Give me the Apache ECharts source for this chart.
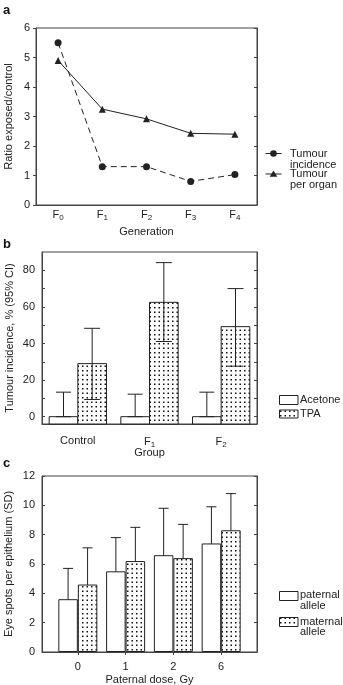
<!DOCTYPE html>
<html>
<head>
<meta charset="utf-8">
<script src="https://cdn.jsdelivr.net/npm/echarts@6/dist/echarts.min.js"></script>
<style>
html, body { margin: 0; padding: 0; background: #fff; }
#fig { width: 343px; height: 685px; }
</style>
</head>
<body>
<div id="fig"></div>
<script>
// panel a - ratio exposed/control by generation
var generations = ['F0', 'F1', 'F2', 'F3', 'F4'];
var tumourIncidence = [5.5, 1.3, 1.3, 0.8, 1.03];
var tumourPerOrgan = [4.9, 3.25, 2.92, 2.43, 2.4];

// panel b - tumour incidence % with 95% CI
var groups = ['Control', 'F1', 'F2'];
var acetone = [0, 0, 0];
var acetoneLow = [0, 0, 0];
var acetoneHigh = [13.4, 12.3, 13.4];
var tpa = [29, 62.5, 49.2];
var tpaLow = [9.4, 41.1, 27.6];
var tpaHigh = [48.3, 84.2, 70];

// panel c - eye spots per epithelium (SD)
var doses = ['0', '1', '2', '6'];
var paternal = [3.6, 5.5, 6.6, 7.4];
var paternalSD = [2.1, 2.3, 3.2, 2.5];
var maternal = [4.6, 6.2, 6.4, 8.3];
var maternalSD = [2.5, 2.3, 2.3, 2.5];

var INK = '#222';
var BOX = '#444';
var FONT = '"Liberation Sans", Arial, sans-serif';
var B_MIN = -4;
var C_BAR = 19.5;

// dotted fill used for TPA / maternal
function dotPattern () {
  var c = document.createElement('canvas');
  c.width = 9;
  c.height = 9;
  var ctx = c.getContext('2d');
  ctx.fillStyle = '#fff';
  ctx.fillRect(0, 0, 9, 9);
  ctx.fillStyle = '#111';
  [[1, 1], [5.5, 1], [1, 5.5], [5.5, 5.5]].forEach(function (p) {
    ctx.fillRect(p[0], p[1], 1.5, 1.5);
  });
  return c;
}
var dots = { image: dotPattern(), repeat: 'repeat' };

function subLabel (v) {
  if (v.charAt(0) === 'F') return '{f|F}{s|' + v.slice(1) + '}';
  return '{f|' + v + '}';
}
var subRich = {
  f: { fontSize: 11, color: INK, fontFamily: FONT },
  s: { fontSize: 8, color: INK, fontFamily: FONT, padding: [6, 0, 0, 0] },
};

var nameStyle = { fontSize: 11, color: INK, fontFamily: FONT };
var labelStyle = { fontSize: 11, color: INK, fontFamily: FONT };

// panel b bars start from the bottom of the axis, so drawn with custom
function barB (side, fill) {
  return function (params, api) {
    var i = api.value(0);
    var top = api.coord([i, api.value(1)]);
    var base = api.coord([i, B_MIN]);
    var w = api.size([1, 0])[0] * 0.4;
    var x = side < 0 ? top[0] - w : top[0];
    return {
      type: 'rect',
      shape: { x: x, y: top[1], width: w, height: base[1] - top[1] },
      style: { fill: fill, stroke: INK, lineWidth: 1 },
    };
  };
}

function errBar (side, widthFn, cap) {
  return function (params, api) {
    var i = api.value(0);
    var lo = api.coord([i, api.value(1)]);
    var hi = api.coord([i, api.value(2)]);
    var cx = lo[0] + side * widthFn(api) / 2;
    var st = { stroke: INK, lineWidth: 1 };
    return {
      type: 'group',
      children: [
        { type: 'line', shape: { x1: cx, y1: lo[1], x2: cx, y2: hi[1] }, style: st },
        { type: 'line', shape: { x1: cx - cap / 2, y1: hi[1], x2: cx + cap / 2, y2: hi[1] }, style: st },
        { type: 'line', shape: { x1: cx - cap / 2, y1: lo[1], x2: cx + cap / 2, y2: lo[1] }, style: st },
      ],
    };
  };
}
function bWidth (api) { return api.size([1, 0])[0] * 0.4; }
function cWidth () { return C_BAR; }

function leftY (gi, cfg) {
  return Object.assign({
    gridIndex: gi,
    type: 'value',
    position: 'left',
    splitLine: { show: false },
    axisLine: { show: true, onZero: false, lineStyle: { color: BOX } },
    axisTick: { show: true, inside: true, length: 3, lineStyle: { color: BOX } },
    axisLabel: Object.assign({ margin: 7 }, labelStyle),
    nameLocation: 'middle',
    nameMoveOverlap: false,
    nameTextStyle: nameStyle,
  }, cfg);
}
function rightY (gi, cfg) {
  return Object.assign({
    gridIndex: gi,
    type: 'value',
    position: 'right',
    splitLine: { show: false },
    axisLine: { show: true, onZero: false, lineStyle: { color: BOX } },
    axisTick: { show: true, inside: true, length: 3, lineStyle: { color: BOX } },
    axisLabel: { show: false },
  }, cfg);
}

function gridAt (left, top, height) {
  return {
    left: left, top: top, width: 257 - left, height: height,
    show: true, borderColor: BOX, borderWidth: 1,
    containLabel: false, outerBoundsMode: 'none',
  };
}

var option = {
  animation: false,
  backgroundColor: '#fff',
  textStyle: { fontFamily: FONT },
  grid: [
    gridAt(36, 28, 177),
    gridAt(42, 252, 172),
    gridAt(42, 476, 176),
  ],
  xAxis: [
    {
      gridIndex: 0,
      type: 'category',
      data: generations,
      boundaryGap: true,
      axisLine: { onZero: false, lineStyle: { color: BOX } },
      axisTick: { alignWithLabel: true, length: 3, lineStyle: { color: BOX } },
      axisLabel: { interval: 0, margin: 3, formatter: subLabel, rich: subRich },
      name: 'Generation',
      nameLocation: 'middle',
      nameGap: 21,
      nameMoveOverlap: false,
      nameTextStyle: nameStyle,
    },
    {
      gridIndex: 1,
      type: 'category',
      data: groups,
      boundaryGap: true,
      axisLine: { onZero: false, lineStyle: { color: BOX } },
      axisTick: { alignWithLabel: true, length: 3, lineStyle: { color: BOX } },
      axisLabel: { interval: 0, margin: 11, formatter: subLabel, rich: subRich },
      name: 'Group',
      nameLocation: 'middle',
      nameGap: 23.5,
      nameMoveOverlap: false,
      nameTextStyle: nameStyle,
    },
    {
      gridIndex: 2,
      type: 'value',
      min: -0.75,
      max: 3.75,
      splitLine: { show: false },
      axisLine: { show: true, onZero: false, lineStyle: { color: BOX } },
      axisTick: { show: true, customValues: [0, 1, 2, 3], length: 3, lineStyle: { color: BOX } },
      axisLabel: Object.assign({
        margin: 9,
        customValues: [0, 1, 2, 3],
        formatter: function (v) { return doses[Math.round(v)]; },
      }, labelStyle),
      name: 'Paternal dose, Gy',
      nameLocation: 'middle',
      nameGap: 22,
      nameMoveOverlap: false,
      nameTextStyle: nameStyle,
    },
  ],
  yAxis: [
    leftY(0, {
      min: 0, max: 6, interval: 1,
      axisTick: { show: true, inside: false, length: 3, lineStyle: { color: BOX } },
      axisLabel: Object.assign({ margin: 6 }, labelStyle),
      name: 'Ratio exposed/control', nameGap: 22,
    }),
    rightY(0, { min: 0, max: 6, interval: 1 }),
    leftY(1, {
      min: B_MIN, max: 90,
      axisTick: { show: true, inside: true, length: 3, customValues: [0, 10, 20, 30, 40, 50, 60, 70, 80], lineStyle: { color: BOX } },
      axisLabel: Object.assign({ margin: 7, customValues: [0, 20, 40, 60, 80] }, labelStyle),
      name: 'Tumour incidence, % (95% CI)', nameGap: 26.5,
    }),
    rightY(1, {
      min: B_MIN, max: 90,
      axisTick: { show: true, inside: true, length: 3, customValues: [0, 10, 20, 30, 40, 50, 60, 70, 80], lineStyle: { color: BOX } },
    }),
    leftY(2, {
      min: 0, max: 12, interval: 2,
      name: 'Eye spots per epithelium (SD)', nameGap: 27.5,
    }),
    rightY(2, { min: 0, max: 12, interval: 2 }),
  ],
  series: [
    {
      type: 'line',
      name: 'Tumour incidence',
      xAxisIndex: 0, yAxisIndex: 0,
      data: tumourIncidence,
      symbol: 'circle', symbolSize: 7,
      lineStyle: { color: INK, width: 1, type: [6, 4] },
      itemStyle: { color: INK },
    },
    {
      type: 'line',
      name: 'Tumour per organ',
      xAxisIndex: 0, yAxisIndex: 0,
      data: tumourPerOrgan,
      symbol: 'triangle', symbolSize: 7,
      lineStyle: { color: INK, width: 1 },
      itemStyle: { color: INK },
    },
    {
      type: 'custom', name: 'Acetone',
      xAxisIndex: 1, yAxisIndex: 2,
      data: acetone.map(function (v, i) { return [i, v]; }),
      renderItem: barB(-1, '#fff'),
    },
    {
      type: 'custom', name: 'TPA',
      xAxisIndex: 1, yAxisIndex: 2,
      data: tpa.map(function (v, i) { return [i, v]; }),
      renderItem: barB(1, dots),
    },
    {
      type: 'custom',
      xAxisIndex: 1, yAxisIndex: 2,
      data: acetoneLow.map(function (l, i) { return [i, l, acetoneHigh[i]]; }),
      renderItem: errBar(-1, bWidth, 15),
    },
    {
      type: 'custom',
      xAxisIndex: 1, yAxisIndex: 2,
      data: tpaLow.map(function (l, i) { return [i, l, tpaHigh[i]]; }),
      renderItem: errBar(1, bWidth, 16),
    },
    {
      type: 'bar', name: 'paternal allele',
      xAxisIndex: 2, yAxisIndex: 4,
      data: paternal.map(function (v, i) { return [i, v]; }),
      barWidth: C_BAR, barGap: '0%',
      itemStyle: { color: '#fff', borderColor: INK, borderWidth: 1 },
    },
    {
      type: 'bar', name: 'maternal allele',
      xAxisIndex: 2, yAxisIndex: 4,
      data: maternal.map(function (v, i) { return [i, v]; }),
      barWidth: C_BAR, barGap: '0%',
      itemStyle: { color: dots, borderColor: INK, borderWidth: 1 },
    },
    {
      type: 'custom',
      xAxisIndex: 2, yAxisIndex: 4,
      data: paternal.map(function (v, i) { return [i, v - paternalSD[i], v + paternalSD[i]]; }),
      renderItem: errBar(-1, cWidth, 10),
    },
    {
      type: 'custom',
      xAxisIndex: 2, yAxisIndex: 4,
      data: maternal.map(function (v, i) { return [i, v - maternalSD[i], v + maternalSD[i]]; }),
      renderItem: errBar(1, cWidth, 10),
    },
  ],
  graphic: [
    // panel letters
    { type: 'text', x: 3, y: 4, style: { text: 'a', font: 'bold 13px ' + FONT, fill: '#111' } },
    { type: 'text', x: 3, y: 238, style: { text: 'b', font: 'bold 13px ' + FONT, fill: '#111' } },
    { type: 'text', x: 3, y: 457, style: { text: 'c', font: 'bold 13px ' + FONT, fill: '#111' } },
    // legend a
    { type: 'line', shape: { x1: 265.5, y1: 153.5, x2: 281.5, y2: 153.5 }, style: { stroke: INK, lineWidth: 1 } },
    { type: 'circle', shape: { cx: 273.5, cy: 153.5, r: 3.3 }, style: { fill: INK } },
    { type: 'text', x: 290, y: 148, style: { text: 'Tumour\nincidence', font: '11px ' + FONT, fill: INK, lineHeight: 11 } },
    { type: 'line', shape: { x1: 265.5, y1: 174, x2: 281.5, y2: 174 }, style: { stroke: INK, lineWidth: 1 } },
    { type: 'polygon', shape: { points: [[273.5, 170.5], [277.3, 176.8], [269.7, 176.8]] }, style: { fill: INK } },
    { type: 'text', x: 290, y: 168.5, style: { text: 'Tumour\nper organ', font: '11px ' + FONT, fill: INK, lineHeight: 11 } },
    // legend b
    { type: 'rect', shape: { x: 279.5, y: 395.5, width: 18.5, height: 9 }, style: { fill: '#fff', stroke: INK, lineWidth: 1 } },
    { type: 'text', x: 300, y: 394, style: { text: 'Acetone', font: '11px ' + FONT, fill: INK } },
    { type: 'rect', shape: { x: 279.5, y: 410, width: 18.5, height: 8 }, style: { fill: dots, stroke: INK, lineWidth: 1 } },
    { type: 'text', x: 300, y: 408.5, style: { text: 'TPA', font: '11px ' + FONT, fill: INK } },
    // legend c
    { type: 'rect', shape: { x: 279.5, y: 591.5, width: 18.5, height: 9 }, style: { fill: '#fff', stroke: INK, lineWidth: 1 } },
    { type: 'text', x: 300, y: 590, style: { text: 'paternal\nallele', font: '11px ' + FONT, fill: INK, lineHeight: 10.5 } },
    { type: 'rect', shape: { x: 279.5, y: 617.5, width: 18.5, height: 9 }, style: { fill: dots, stroke: INK, lineWidth: 1 } },
    { type: 'text', x: 300, y: 616.5, style: { text: 'maternal\nallele', font: '11px ' + FONT, fill: INK, lineHeight: 10.5 } },
  ],
};

var chart = echarts.init(document.getElementById('fig'));
chart.setOption(option);
window.onresize = chart.resize;
</script>
</body>
</html>
